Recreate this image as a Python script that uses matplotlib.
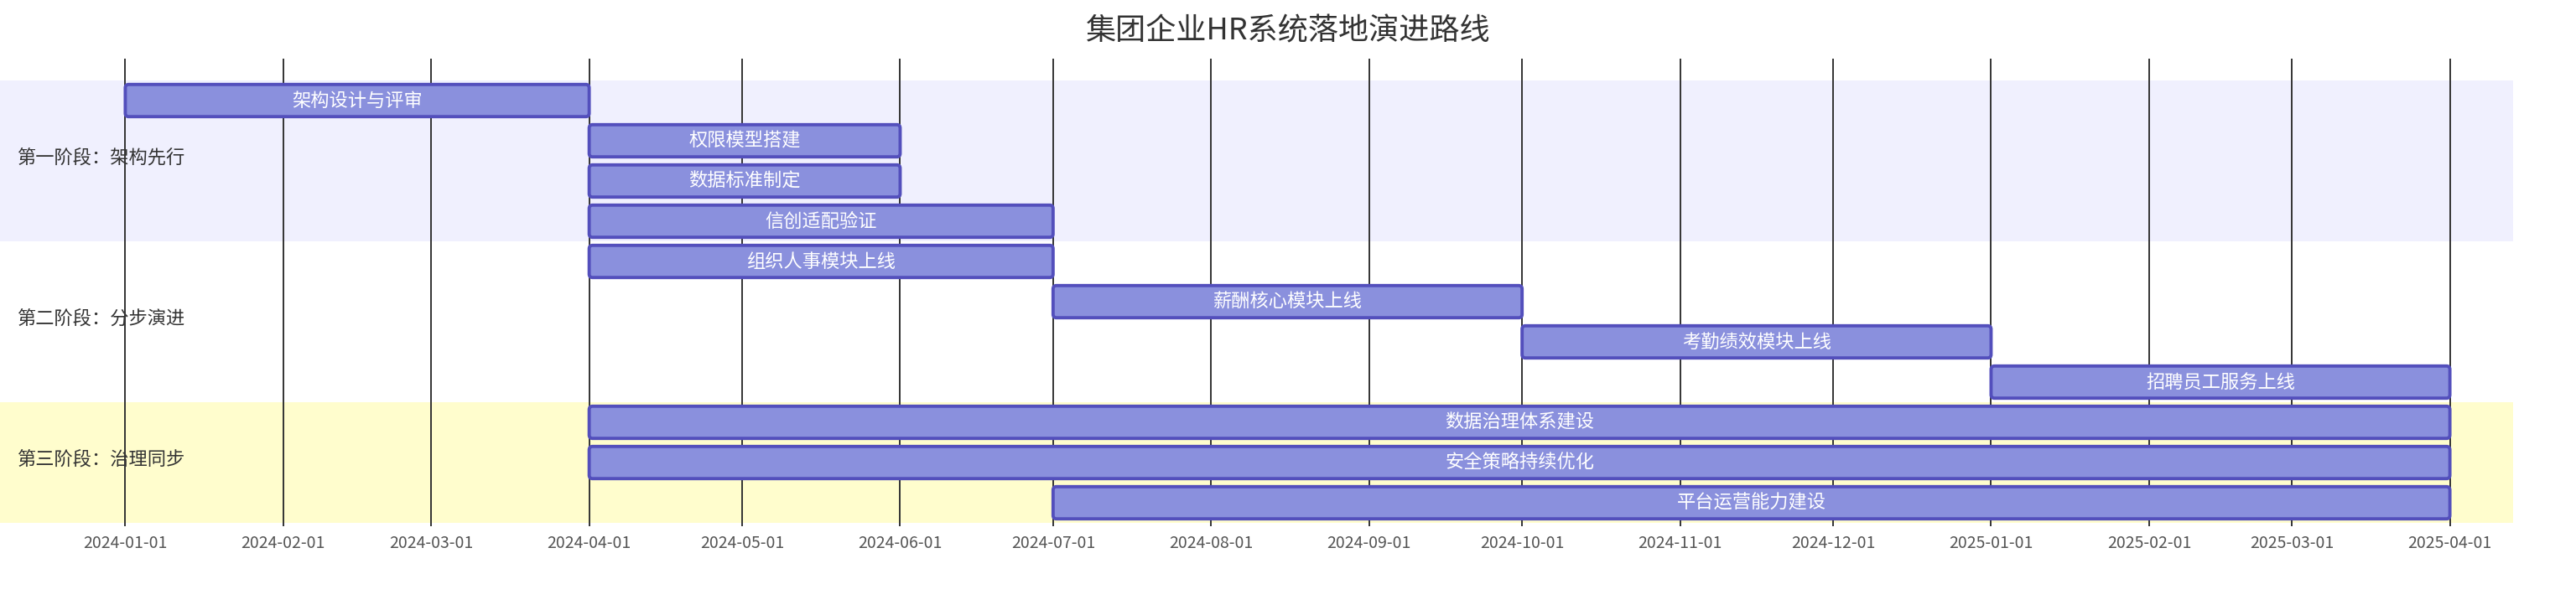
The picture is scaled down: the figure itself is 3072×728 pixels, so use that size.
import matplotlib
matplotlib.use('Agg')
import matplotlib.pyplot as plt
import matplotlib.dates as mdates
from matplotlib.patches import FancyBboxPatch
import pandas as pd

plt.rcParams['font.family'] = ['Noto Sans CJK SC', 'DejaVu Sans']

title = '集团企业HR系统落地演进路线'
sections = ['第一阶段：架构先行', '第二阶段：分步演进', '第三阶段：治理同步']
section_colors = ['#f0f0fe', '#ffffff', '#fffdcd']

task_names = ['架构设计与评审', '权限模型搭建', '数据标准制定', '信创适配验证',
              '组织人事模块上线', '薪酬核心模块上线', '考勤绩效模块上线', '招聘员工服务上线',
              '数据治理体系建设', '安全策略持续优化', '平台运营能力建设']
task_section = [0, 0, 0, 0, 1, 1, 1, 1, 2, 2, 2]
task_start = ['2024-01-01', '2024-04-01', '2024-04-01', '2024-04-01',
              '2024-04-01', '2024-07-01', '2024-10-01', '2025-01-01',
              '2024-04-01', '2024-04-01', '2024-07-01']
task_end = ['2024-04-01', '2024-06-01', '2024-06-01', '2024-07-01',
            '2024-07-01', '2024-10-01', '2025-01-01', '2025-04-01',
            '2025-04-01', '2025-04-01', '2025-04-01']
tick_dates = pd.date_range('2024-01-01', '2025-04-01', freq='MS')

W, H = 3072, 728
fig = plt.figure(figsize=(W / 100, H / 100), dpi=100)
ax = fig.add_axes([0, 0, 1, 1])

# pixel layout of the gantt (mermaid-like)
x0_px, x1_px = 149.4, 2921.6
d0 = mdates.date2num(pd.Timestamp('2024-01-01'))
d1 = mdates.date2num(pd.Timestamp('2025-04-01'))
px_per_day = (x1_px - x0_px) / (d1 - d0)
ax.set_xlim(d0 - x0_px / px_per_day, d0 + (W - x0_px) / px_per_day)
row_px, first_row_px = 48, 120
ax.set_ylim((H - first_row_px) / row_px, -first_row_px / row_px)
ax.set_facecolor('white')

# section bands + labels
start = 0
for s, name in enumerate(sections):
    n = task_section.count(s)
    ax.axhspan(start - 0.5, start + n - 0.5, xmin=0, xmax=2997 / W,
               color=section_colors[s], zorder=0, lw=0)
    ax.text(20 / W, start + (n - 1) / 2 - 0.08, name, transform=ax.get_yaxis_transform(),
            ha='left', va='center', fontsize=16, color='#333333', zorder=2)
    start += n

# vertical grid at month starts
tick_nums = mdates.date2num(tick_dates)
ax.vlines(tick_nums, -1.04, 10.58, color='#333333', lw=1.4, zorder=1)

# task bars
bar_h = 0.8
r_px = 4
for i, name in enumerate(task_names):
    s = mdates.date2num(pd.Timestamp(task_start[i]))
    e = mdates.date2num(pd.Timestamp(task_end[i]))
    patch = FancyBboxPatch((s, i - bar_h / 2), e - s, bar_h,
                           boxstyle=f'round,pad=0,rounding_size={r_px / px_per_day}',
                           mutation_aspect=px_per_day / row_px,
                           facecolor='#8a90dd', edgecolor='#534fbc', lw=2.8, zorder=3)
    ax.add_patch(patch)
    ax.text((s + e) / 2, i, name, ha='center', va='center', fontsize=16,
            color='white', zorder=4)

# date axis
ax.spines['bottom'].set_position(('data', 10.58))
for sp in ax.spines.values():
    sp.set_visible(False)
ax.set_xticks(tick_nums)
ax.set_xticklabels([d.strftime('%Y-%m-%d') for d in tick_dates])
ax.tick_params(axis='x', length=0, pad=7, labelsize=14, labelcolor='#555555')
ax.set_yticks([])

fig.text(0.5, 1 - 37 / H, title, ha='center', va='center', fontsize=26, color='#333333')

fig.savefig('out.png', dpi=100)
